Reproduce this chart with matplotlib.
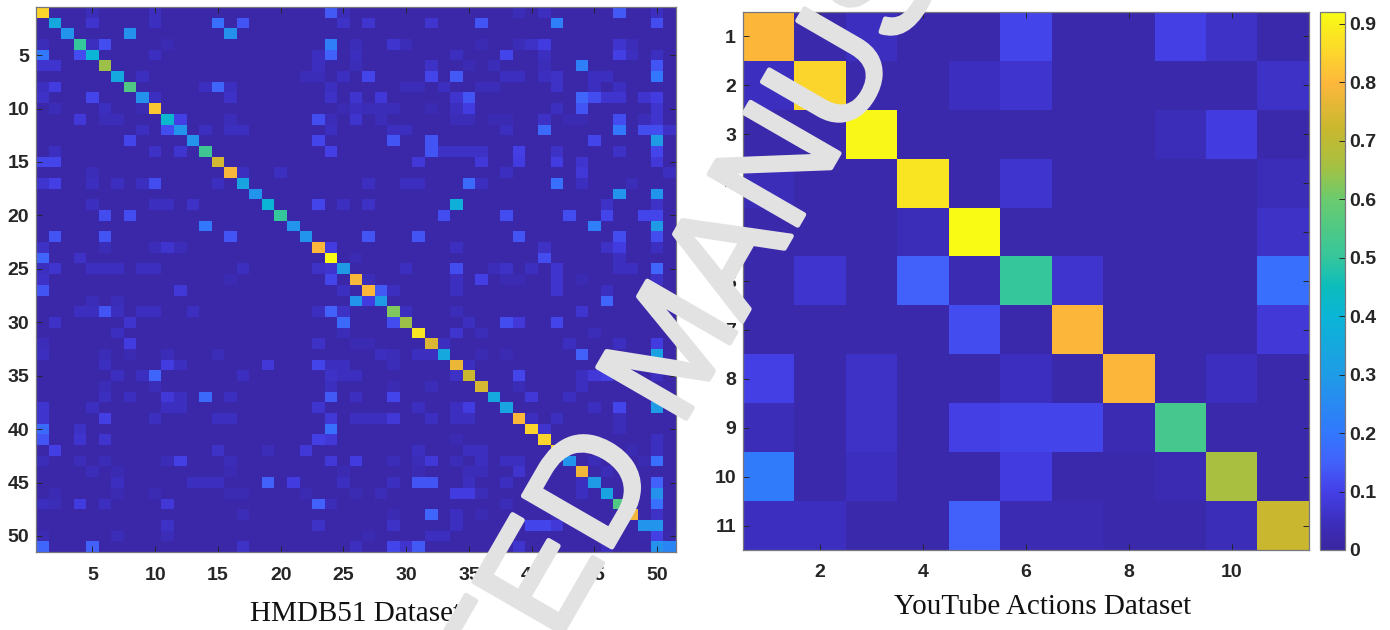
import numpy as np
import matplotlib
matplotlib.use("Agg")
import matplotlib.pyplot as plt
import matplotlib.patheffects as pe
from matplotlib.colors import LinearSegmentedColormap

vmax = 0.92

# MATLAB parula, matplotlib does not ship it. anchors matched to the reference colorbar
parula_values = [0.0, 0.05, 0.10, 0.15, 0.20, 0.30, 0.40, 0.45, 0.50, 0.60, 0.66, 0.72, 0.80, 0.85, 0.92]
parula_colors = ["#3a26a0", "#3d2fc0", "#4440e8", "#4262fb", "#3278fd", "#1f9ce6", "#0bb5d6",
                 "#0bbcbc", "#35c69c", "#6acb6e", "#a8c040", "#c8b82f", "#fdb73c", "#fcd52c", "#f9fb15"]

# HMDB51 confusion matrix
hmdb_diag = [.85, .35, .28, .50, .40, .65, .35, .55, .27, .83, .42, .28, .28, .52, .74, .79, .33,
             .28, .40, .50, .28, .28, .80, .92, .30, .79, .80, .30, .62, .65, .88, .75, .35, .77,
             .72, .74, .35, .33, .80, .85, .85, .85, .28, .78, .30, .33, .55, .78, .28, .10, .24]
hmdb_background = 0.015

# off diagonal cells per row, (column, value), rows 1-25
hmdb_off_top = [
    [(5, .04), (10, .05), (24, .14), (25, .04), (39, .04), (41, .05), (47, .14), (50, .05)],
    [(5, .07), (10, .05), (15, .18), (17, .13), (25, .06), (27, .07), (32, .07), (36, .13), (42, .22), (50, .12)],
    [(8, .27), (16, .27)],
    [(1, .04), (5, .05), (6, .12), (11, .03), (24, .22), (26, .04), (29, .07), (30, .04), (36, .03), (39, .04),
     (40, .06), (41, .09), (47, .07), (48, .04)],
    [(1, .20), (4, .12), (10, .05), (23, .05), (24, .15), (26, .05), (34, .05), (38, .11), (41, .05), (47, .10),
     (48, .05), (50, .05)],
    [(1, .07), (2, .07), (23, .05), (26, .04), (32, .06), (35, .03), (37, .04), (41, .04), (44, .22), (50, .13)],
    [(9, .05), (22, .04), (23, .04), (25, .05), (27, .11), (32, .11), (34, .14), (38, .05), (39, .05), (41, .05),
     (42, .06), (45, .05), (46, .05), (50, .20)],
    [(1, .05), (2, .09), (14, .05), (15, .16), (16, .05), (24, .05), (30, .04), (31, .04), (33, .05), (36, .04),
     (37, .04), (42, .06), (45, .05), (47, .05)],
    [(1, .06), (5, .11), (10, .05), (16, .06), (24, .06), (26, .07), (28, .08), (34, .07), (35, .13), (44, .16),
     (45, .12), (46, .07), (47, .07), (49, .07), (50, .09)],
    [(2, .04), (6, .05), (9, .03), (25, .03), (26, .05), (27, .04), (28, .04), (29, .04), (32, .03), (34, .05),
     (35, .09), (42, .05), (44, .13), (50, .07)],
    [(4, .08), (6, .04), (7, .04), (12, .10), (16, .04), (23, .12), (24, .04), (26, .07), (28, .04), (34, .04),
     (35, .04), (37, .03), (38, .03), (41, .06), (43, .03), (44, .03), (47, .12), (49, .04), (50, .07)],
    [(9, .05), (11, .12), (14, .05), (16, .05), (17, .05), (24, .05), (29, .05), (30, .05), (38, .05), (41, .17),
     (47, .20), (49, .12), (50, .12), (51, .06)],
    [(8, .11), (23, .11), (29, .13), (32, .13), (45, .11), (50, .30)],
    [(2, .05), (10, .06), (12, .07), (24, .10), (32, .13), (33, .06), (34, .06), (35, .06), (36, .06), (39, .10),
     (42, .06), (47, .06), (50, .11)],
    [(1, .11), (2, .11), (31, .08), (36, .08), (39, .09), (42, .09), (44, .07), (50, .08)],
    [(5, .04), (17, .05), (20, .05), (38, .05), (44, .08), (51, .05)],
    [(1, .07), (2, .10), (5, .05), (7, .05), (9, .05), (10, .12), (15, .05), (27, .05), (30, .05), (31, .05),
     (35, .17), (36, .05), (42, .18), (44, .05), (48, .04)],
    [(47, .28), (50, .28)],
    [(5, .05), (10, .05), (11, .05), (13, .06), (23, .11), (25, .05), (27, .06), (34, .38), (46, .06), (50, .06)],
    [(6, .12), (8, .12), (33, .12), (38, .12), (43, .12), (46, .11), (49, .11), (50, .11)],
    [(14, .20), (45, .22), (50, .30)],
    [(2, .13), (6, .13), (16, .13), (27, .13), (31, .13), (39, .13), (47, .12), (50, .12)],
    [(1, .06), (6, .04), (10, .04), (11, .07), (12, .04), (24, .09), (34, .05), (41, .06), (46, .06), (47, .09),
     (50, .05)],
    [(1, .16), (4, .06), (26, .03), (41, .12), (47, .05)],
    [(1, .05), (2, .07), (5, .05), (6, .05), (7, .05), (9, .05), (10, .05), (17, .05), (23, .06), (24, .07),
     (30, .05), (34, .12), (37, .04), (38, .06), (40, .05), (42, .07), (47, .05), (48, .05), (50, .16)],
]

# rows 26-51
hmdb_off_bottom = [
    [(1, .06), (16, .03), (24, .11), (27, .04), (34, .05), (36, .10), (38, .03), (39, .03), (42, .07), (44, .03),
     (50, .06)],
    [(1, .13), (12, .08), (25, .05), (28, .14), (29, .05), (34, .05), (42, .07), (46, .05)],
    [(5, .04), (7, .04), (26, .28), (27, .09), (46, .16)],
    [(4, .05), (5, .05), (6, .13), (7, .05), (9, .05), (10, .05), (13, .05), (23, .05), (24, .15), (25, .06),
     (30, .05), (34, .04), (44, .07), (50, .12)],
    [(2, .06), (8, .07), (25, .17), (29, .12), (35, .05), (38, .12), (39, .08), (42, .11)],
    [(7, .05), (25, .04), (34, .07), (36, .04), (45, .04)],
    [(1, .04), (8, .09), (23, .06), (26, .03), (27, .03), (33, .05), (43, .05), (47, .05), (50, .09)],
    [(1, .05), (6, .04), (8, .03), (11, .04), (15, .04), (28, .05), (29, .04), (31, .05), (32, .05), (36, .03),
     (38, .03), (44, .15), (50, .32)],
    [(6, .05), (11, .09), (12, .05), (19, .08), (23, .11), (24, .05), (25, .05), (29, .04), (35, .05), (50, .10)],
    [(7, .05), (9, .05), (10, .16), (17, .05), (24, .06), (25, .05), (26, .05), (34, .06), (39, .11), (44, .05),
     (45, .08), (46, .10), (50, .05)],
    [(6, .04), (10, .04), (24, .05), (29, .03), (32, .04), (39, .04), (44, .05)],
    [(6, .05), (8, .05), (11, .08), (12, .05), (14, .17), (16, .05), (24, .14), (26, .05), (29, .11), (40, .08),
     (43, .05), (50, .15)],
    [(1, .07), (5, .05), (11, .05), (12, .05), (23, .07), (31, .05), (34, .05), (35, .09), (45, .05), (47, .11),
     (50, .30)],
    [(1, .07), (6, .10), (10, .05), (15, .05), (16, .05), (24, .08), (26, .05), (27, .05), (28, .05), (29, .08),
     (32, .05), (34, .05), (35, .05), (40, .05), (42, .05), (47, .04)],
    [(1, .17), (4, .06), (24, .18), (41, .07), (47, .04)],
    [(1, .13), (4, .07), (6, .07), (23, .10), (24, .08), (34, .03), (50, .05)],
    [(2, .10), (15, .06), (19, .04), (22, .08), (31, .05), (35, .05), (36, .05), (48, .03), (50, .05)],
    [(1, .04), (4, .04), (6, .04), (11, .04), (12, .10), (16, .04), (24, .08), (26, .09), (29, .04), (31, .04),
     (32, .08), (34, .04), (36, .05), (38, .05), (39, .05), (45, .04), (49, .03), (50, .18)],
    [(5, .04), (7, .03), (16, .03), (25, .03), (31, .03), (35, .04), (36, .04), (39, .07), (46, .04)],
    [(7, .05), (13, .05), (14, .05), (15, .05), (19, .15), (21, .09), (25, .05), (29, .05), (31, .13), (32, .13),
     (35, .05), (38, .05), (44, .05), (50, .15)],
    [(2, .03), (7, .03), (10, .03), (16, .03), (17, .03), (22, .03), (26, .03), (28, .04), (34, .09), (35, .09),
     (36, .04), (44, .05), (50, .27)],
    [(1, .05), (2, .04), (4, .09), (6, .05), (11, .08), (23, .15), (24, .04), (38, .04), (41, .03), (50, .18)],
    [(17, .04), (29, .03), (32, .16), (34, .05), (36, .03), (42, .04), (50, .06)],
    [(11, .06), (23, .06), (29, .06), (34, .05), (40, .11), (41, .11), (42, .08), (50, .28)],
    [(1, .03), (7, .04), (11, .04), (27, .03), (32, .05), (33, .05), (49, .02), (51, .02)],
    [(1, .16), (5, .15), (17, .06), (26, .05), (29, .11), (30, .07), (31, .14), (39, .07), (46, .05), (50, .27)],
]

hmdb_ticks = [5, 10, 15, 20, 25, 30, 35, 40, 45, 50]

# YouTube Actions confusion matrix
youtube_matrix = [
    [.80, .02, .05, .02, .02, .11, .02, .02, .10, .06, .02],
    [.05, .85, .02, .02, .05, .07, .02, .02, .02, .02, .06],
    [.02, .02, .91, .02, .02, .02, .02, .02, .04, .09, .02],
    [.04, .02, .02, .88, .02, .07, .02, .02, .02, .02, .04],
    [.02, .02, .02, .04, .93, .02, .02, .02, .02, .02, .06],
    [.02, .07, .02, .15, .03, .50, .07, .02, .02, .02, .18],
    [.02, .02, .02, .02, .12, .02, .80, .02, .02, .02, .08],
    [.10, .02, .06, .02, .02, .05, .02, .80, .02, .05, .02],
    [.04, .02, .06, .02, .10, .11, .11, .03, .53, .02, .02],
    [.21, .02, .05, .02, .02, .09, .02, .02, .03, .66, .02],
    [.05, .05, .02, .02, .15, .03, .03, .02, .02, .04, .72],
]
youtube_xticks = [2, 4, 6, 8, 10]
youtube_yticks = [1, 2, 3, 4, 5, 6, 7, 8, 9, 10, 11]
cbar_ticks = [0, 0.1, 0.2, 0.3, 0.4, 0.5, 0.6, 0.7, 0.8, 0.9]
cbar_labels = ["0", "0.1", "0.2", "0.3", "0.4", "0.5", "0.6", "0.7", "0.8", "0.9"]

W, H = 1390, 630


def px_axes(fig, x0, y0, x1, y1):
    return fig.add_axes([x0 / W, 1 - y1 / H, (x1 - x0) / W, (y1 - y0) / H])


def build_hmdb():
    m = np.full((51, 51), hmdb_background)
    for i, v in enumerate(hmdb_diag):
        m[i, i] = v
    for i, row in enumerate(hmdb_off_top + hmdb_off_bottom):
        for col, v in row:
            m[i, col - 1] = v
    return m


def style_axes(ax, xpad):
    ax.tick_params(axis="both", direction="in", length=4, width=0.7, color="#262626",
                   labelsize=14, labelcolor="#262626", top=True, right=True)
    ax.tick_params(axis="x", pad=xpad)
    ax.tick_params(axis="y", pad=5)
    for lbl in ax.get_xticklabels() + ax.get_yticklabels():
        lbl.set_fontweight("bold")
    for s in ax.spines.values():
        s.set_color("#77777f")
        s.set_linewidth(0.9)


plt.rcParams["font.family"] = ["Liberation Sans", "DejaVu Sans"]
parula_pos = [min(v / vmax, 1.0) for v in parula_values]
parula = LinearSegmentedColormap.from_list("parula", list(zip(parula_pos, parula_colors)), N=256)

fig = plt.figure(figsize=(W / 100, H / 100), dpi=100)

ax1 = px_axes(fig, 36, 7, 676, 552)
ax1.imshow(build_hmdb(), cmap=parula, vmin=0, vmax=vmax, aspect="auto",
           interpolation="nearest", extent=[0.5, 51.5, 51.5, 0.5])
ax1.set_xticks(hmdb_ticks)
ax1.set_yticks(hmdb_ticks)
style_axes(ax1, 11)

ax2 = px_axes(fig, 743, 12, 1309, 550)
im = ax2.imshow(np.array(youtube_matrix), cmap=parula, vmin=0, vmax=vmax, aspect="auto",
                interpolation="nearest", extent=[0.5, 11.5, 11.5, 0.5])
ax2.set_xticks(youtube_xticks)
ax2.set_yticks(youtube_yticks)
style_axes(ax2, 10)

cax = px_axes(fig, 1320, 12, 1345, 550)
cb = fig.colorbar(im, cax=cax)
cb.set_ticks(cbar_ticks, labels=cbar_labels)
cb.ax.tick_params(direction="in", length=4, width=0.7, color="#262626", labelsize=14,
                  labelcolor="#262626", pad=3)
for lbl in cb.ax.get_yticklabels():
    lbl.set_fontweight("bold")
cb.outline.set_edgecolor("#77777f")
cb.outline.set_linewidth(0.9)

fig.text(356 / W, 1 - 614 / H, "HMDB51 Dataset", ha="center", va="center", fontsize=21,
         family="Liberation Serif", color="#111111")
fig.text(1043 / W, 1 - 607 / H, "YouTube Actions Dataset", ha="center", va="center", fontsize=21,
         family="Liberation Serif", color="#111111")

# diagonal watermark over everything, stroke makes the letters as heavy as the reference
mark = fig.text(680 / W, 1 - 352 / H, "ACCEPTED MANUSCRIPT", ha="center", va="center", rotation=60,
                rotation_mode="anchor", fontsize=107, color="#e2e2e2", family="Liberation Sans", zorder=10)
mark.set_path_effects([pe.withStroke(linewidth=3.5, foreground="#e2e2e2")])

fig.savefig("out.png", dpi=100)
